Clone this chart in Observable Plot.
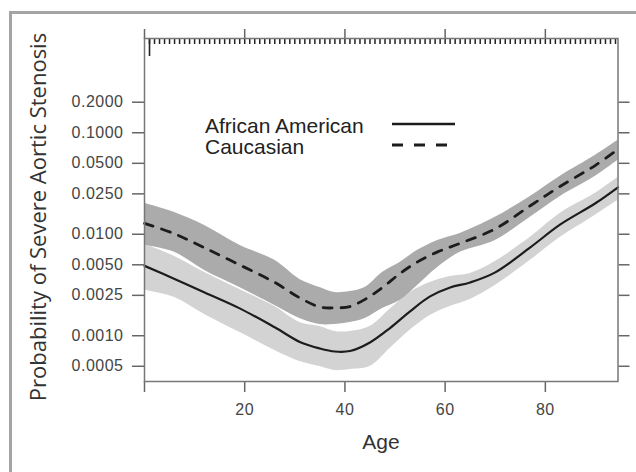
<!DOCTYPE html>
<html>
<head>
<meta charset="utf-8">
<script src="https://cdn.jsdelivr.net/npm/d3@7"></script>
<script src="https://cdn.jsdelivr.net/npm/@observablehq/plot@0.6"></script>
<style>
  html, body { margin: 0; padding: 0; background: #fff; overflow: hidden; }
  #wrap { position: relative; width: 636px; height: 472px; overflow: hidden; background: #fff; }
  #border { position: absolute; left: 9px; top: 11px; width: 700px; height: 600px; border-left: 3px solid #a4a4a4; border-top: 3px solid #a4a4a4; }
  #chart { position: absolute; left: 0; top: 0; }
  #chart svg text { letter-spacing: 0.5px; }
  #ytitle { position: absolute; left: 0; top: 0; white-space: nowrap; font-family: "Open Sans", sans-serif; font-size: 22px; color: #333;
            transform-origin: 0 0; transform: translate(21.5px, 217px) rotate(-90deg) translate(-50%, 0); }
  #xtitle { position: absolute; left: 0; top: 0; white-space: nowrap; font-family: "Liberation Sans", Arial, sans-serif; font-size: 21px; color: #333;
            transform: translate(381px, 430px) translate(-50%, 0); }
  #legend { position: absolute; left: 0; top: 0; }
</style>
</head>
<body>
<div id="wrap">
  <div id="border"></div>
  <div id="chart"></div>
  <div id="ytitle"></div>
  <div id="xtitle"></div>
  <svg id="legend" width="636" height="472"></svg>
</div>
<script>
// ---- data ----
const seriesNames = ["African American", "Caucasian"];
const yTitle = "Probability of Severe Aortic Stenosis";
const xTitle = "Age";

const aaAges  = [0, 6, 12, 19, 26, 31, 35, 38, 41, 45, 49, 53, 57, 61, 65, 70, 77, 83, 90, 94.5];
const aaFit   = [0.00488, 0.00363, 0.00267, 0.00186, 0.00121, 0.000868, 0.000749, 0.000699, 0.000707, 0.000858, 0.00119, 0.00174, 0.00244, 0.00299, 0.00335, 0.00421, 0.00743, 0.0125, 0.0202, 0.0290];
const aaUpper = [0.00795, 0.00605, 0.00421, 0.00286, 0.00194, 0.00135, 0.00123, 0.00110, 0.00110, 0.00123, 0.00182, 0.00267, 0.00335, 0.00384, 0.00411, 0.00540, 0.00932, 0.0161, 0.0253, 0.0364];
const aaLower = [0.00280, 0.00238, 0.00162, 0.00108, 0.000715, 0.000557, 0.000497, 0.000454, 0.000465, 0.000497, 0.000748, 0.00113, 0.00158, 0.00194, 0.00228, 0.00313, 0.00553, 0.00932, 0.0154, 0.0216];

const cauAges  = [0, 6, 12, 19, 26, 31, 35, 38, 41, 44, 47.5, 51, 54.5, 58.5, 63, 70, 77, 83, 90, 94.5];
const cauFit   = [0.0128, 0.0101, 0.00734, 0.00499, 0.00335, 0.00236, 0.00192, 0.00188, 0.00194, 0.00228, 0.00299, 0.00411, 0.00534, 0.00670, 0.00813, 0.0113, 0.0191, 0.0297, 0.0478, 0.0688];
const cauUpper = [0.0202, 0.0164, 0.0122, 0.00777, 0.00553, 0.00359, 0.00299, 0.00267, 0.00273, 0.00299, 0.00421, 0.00528, 0.00694, 0.00870, 0.0102, 0.0147, 0.0236, 0.0373, 0.0600, 0.0844];
const cauLower = [0.00777, 0.00663, 0.00440, 0.00299, 0.00199, 0.00148, 0.00129, 0.00129, 0.00135, 0.00148, 0.00186, 0.00223, 0.00313, 0.00471, 0.00663, 0.00870, 0.0147, 0.0236, 0.0373, 0.0536];

const rugAges = [1,2,3,4,5,6,7,8,9,10,11,12,13,14,15,16,17,18,19,20,21,22,23,24,25,26,27,28,29,30,31,32,33,34,35,36,37,38,39,40,41,42,43,44,45,46,47,48,49,50,51,52,53,54,55,56,57,58,59,60,61,62,63,64,65,66,67,68,69,70,71,72,73,74,75,76,77,78,79,80,81,82,83,84,85,86,87,88,89,90,91,92,93,94];
const rugLong = [1];

const yTicks = [0.2, 0.1, 0.05, 0.025, 0.01, 0.005, 0.0025, 0.001, 0.0005];
const yTickLabels = ["0.2000", "0.1000", "0.0500", "0.0250", "0.0100", "0.0050", "0.0025", "0.0010", "0.0005"];
const xTicks = [0, 20, 40, 60, 80];
const xTickLabels = ["", "20", "40", "60", "80"];
const xDomain = [0, 94.5];
const yDomain = [0.000354, 0.849];

// ---- build ----
const aa  = aaAges.map((a, i) => ({age: a, fit: aaFit[i], lo: aaLower[i], hi: aaUpper[i]}));
const cau = cauAges.map((a, i) => ({age: a, fit: cauFit[i], lo: cauLower[i], hi: cauUpper[i]}));
const yLab = yTicks.map((v, i) => ({v, label: yTickLabels[i]}));
const xLab = xTicks.map((v, i) => ({v, label: xTickLabels[i]}));

const W = 636, H = 472, mT = 38, mB = 91, mL = 144, mR = 18.5;
const innerH = H - mT - mB;
const font = "'Liberation Sans', Arial, sans-serif";

const chart = Plot.plot({
  width: W, height: H,
  marginTop: mT, marginBottom: mB, marginLeft: mL, marginRight: mR,
  style: {fontFamily: font, fontSize: "16px", color: "#454545", background: "transparent"},
  x: {domain: xDomain},
  y: {type: "log", domain: yDomain},
  marks: [
    Plot.areaY(aa,  {x: "age", y1: "lo", y2: "hi", fill: "#d3d3d3", curve: "catmull-rom"}),
    Plot.areaY(cau, {x: "age", y1: "lo", y2: "hi", fill: "#ababab", curve: "catmull-rom"}),
    Plot.lineY(aa,  {x: "age", y: "fit", stroke: "#1c1c1c", strokeWidth: 2.2, curve: "catmull-rom"}),
    Plot.lineY(cau, {x: "age", y: "fit", stroke: "#1c1c1c", strokeWidth: 2.8, strokeDasharray: "9,9", curve: "catmull-rom"}),
    Plot.ruleX(rugAges, {x: d => d, stroke: "#222", strokeWidth: 1.5, insetBottom: innerH - 6}),
    Plot.ruleX(rugLong, {x: d => d, stroke: "#222", strokeWidth: 1.6, insetBottom: innerH - 18}),
    Plot.axisY({anchor: "left", ticks: yTicks, tickFormat: () => "", tickSize: 12, label: null, stroke: "#666", strokeWidth: 1.5}),
    Plot.text(yLab, {y: "v", text: "label", frameAnchor: "left", textAnchor: "end", dx: -21, fontSize: 16, fill: "#454545"}),
    Plot.axisY({anchor: "right", ticks: yTicks, tickFormat: () => "", tickSize: 11, label: null, stroke: "#666", strokeWidth: 1.5}),
    Plot.axisX({anchor: "bottom", ticks: xTicks, tickFormat: () => "", tickSize: 11, label: null, stroke: "#666", strokeWidth: 1.5}),
    Plot.text(xLab, {x: "v", text: "label", frameAnchor: "bottom", lineAnchor: "top", dy: 22, fontSize: 16, fill: "#454545"}),
    Plot.axisX({anchor: "top", ticks: xTicks, tickFormat: () => "", tickSize: 10, label: null, stroke: "#666", strokeWidth: 1.5}),
    Plot.frame({stroke: "#777", strokeWidth: 1.5})
  ]
});
document.getElementById("chart").appendChild(chart);

document.getElementById("ytitle").textContent = yTitle;
document.getElementById("xtitle").textContent = xTitle;

// legend (inside the plot area, upper left)
const leg = d3.select("#legend");
const legendStyles = [{dash: null, width: 2.6}, {dash: "11,11", width: 2.8}];
seriesNames.forEach((name, i) => {
  leg.append("text")
    .attr("x", 205).attr("y", 133 + i * 21)
    .attr("font-family", font).attr("font-size", 21).attr("fill", "#222")
    .text(name);
  leg.append("line")
    .attr("x1", 392).attr("x2", i === 0 ? 455 : 447)
    .attr("y1", 124 + i * 21).attr("y2", 124 + i * 21)
    .attr("stroke", "#1c1c1c").attr("stroke-width", legendStyles[i].width)
    .attr("stroke-dasharray", legendStyles[i].dash);
});
</script>
</body>
</html>
